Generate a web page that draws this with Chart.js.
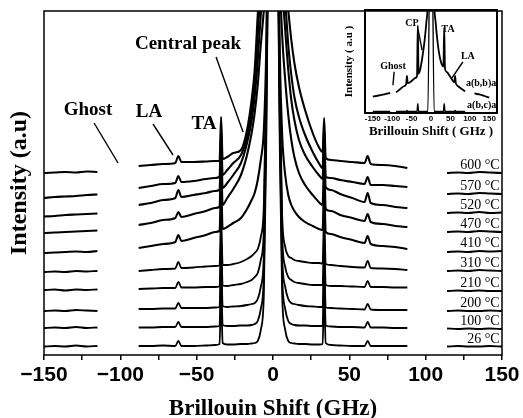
<!DOCTYPE html>
<html>
<head>
<meta charset="utf-8">
<script src="https://cdn.jsdelivr.net/npm/chart.js@4.4.1/dist/chart.umd.min.js"></script>
<style>
  body { margin: 0; background: #fff; }
  #wrap { position: relative; width: 523px; height: 418px; }
  #main { position: absolute; left: 0; top: 0; }
  #inset { position: absolute; left: 330px; top: 0; }
</style>
</head>
<body>
<div id="wrap">
  <canvas id="main" width="523" height="418"></canvas>
  <canvas id="inset" width="175" height="140"></canvas>
</div>
<script>
// Brillouin shift grid (GHz), shared by every spectrum; null rows are the gaps
const shift = [-150, -143, -136, -129, -122, -115, -100,
  -88, -80, -72, -64, -62, -60, -52, -44, -38, -35, -34, -33, -30, -26, -21, -17, -14, -12, -10, -8, -6, -4.5, -2.5,
  0,
  2.5, 4.5, 6, 8, 10, 12, 14, 17, 21, 26, 30, 32.5, 33.5, 34.5, 38, 44, 52, 60, 62, 64, 72, 80, 88,
  100, 114, 121, 128, 135, 142, 150];

const tempLabels = ['26 °C', '100 °C', '200 °C', '210 °C', '310 °C', '410 °C', '470 °C', '520 °C', '570 °C', '600 °C'];

// stacked intensities (a.u.); 1000 = off the top
const t26 = [8.5, 9, 8.5, 9.5, 8.5, 9, null,
  9, 9, 9.5, 9, 14, 9, 9, 9.5, 10, 11, 62, 12, 10.5, 10.5, 11, 11, 11.5, 12, 14, 25, 60, 200, 500,
  1000,
  500, 200, 60, 25, 14, 12, 11.5, 11, 11, 10.5, 10.5, 11, 62, 12, 10, 9.5, 9, 9, 14, 9, 9, 9, 9,
  null, 8.5, 9, 8.5, 8.5, 9, 8.5];
const t100 = [27, 27.5, 27, 28, 27, 27.5, null,
  27.5, 27.5, 28, 28, 33, 28, 28, 28, 28.5, 29, 80, 30, 29, 29, 29.5, 29.5, 30, 31, 34, 46, 80, 220, 500,
  1000,
  500, 220, 80, 46, 34, 31, 30, 29.5, 29.5, 29, 29, 29, 80, 29.5, 28.5, 28, 28, 27.5, 33, 27.5, 27.5, 27, 27,
  null, 26.5, 26, 26.5, 26, 26.5, 26];
const t200 = [44, 44.5, 44, 45, 44.5, 44, null,
  46, 46, 46.5, 46.5, 52, 47, 47, 47, 47.5, 48, 98, 49, 48, 48.5, 49, 50, 51, 52, 56, 68, 100, 240, 520,
  1000,
  520, 240, 100, 68, 56, 52, 51, 50, 49, 48.5, 48, 48, 98, 47.5, 47, 46.5, 46, 45.5, 51, 45.5, 45, 45, 45,
  null, 44, 44.5, 44, 44, 44.5, 44];
const t210 = [65, 65.5, 64.5, 65.5, 65, 65.5, null,
  66, 66.5, 67, 67, 73, 67.5, 67.5, 68, 68, 68.5, 118, 69.5, 69, 70, 71, 73, 75, 78, 82, 95, 125, 260, 520,
  1000,
  520, 250, 120, 88, 78, 75, 73, 72, 71, 70, 70, 70, 120, 70, 69, 69, 68.5, 68, 74, 68, 68, 67.5, 67.5,
  null, 64, 64.5, 64, 64.5, 64, 64];
const t310 = [83, 83.5, 83, 84, 83.5, 84, null,
  84, 85, 86, 86.5, 93, 87, 87.5, 88.5, 89, 89.5, 140, 90, 90, 91, 93, 96, 99, 102, 106, 118, 150, 270, 520,
  1000,
  520, 260, 140, 108, 99, 97, 95, 94, 93, 92, 92, 91.5, 142, 91, 90, 89, 88, 87.5, 94, 87, 86.5, 86, 85,
  null, 84, 84.5, 84, 85, 84.5, 84];
const t410 = [102, 102.5, 103, 103.5, 103, 104, null,
  107, 109, 111, 113, 120, 114, 117, 120, 123, 124, 172, 126, 128, 132, 137, 146, 155, 162, 175, 195, 225, 300, 540,
  1000,
  540, 300, 220, 180, 160, 150, 144, 138, 133, 129, 126, 125, 172, 123, 121, 118, 115, 112, 119, 111, 109, 108, 106,
  null, 103, 103.5, 103, 104, 103.5, 104];
const t470 = [122, 122.5, 123, 123.5, 124, 124.5, null,
  130, 132, 135, 137, 143, 138, 141, 144, 147, 148, 195, 150, 157, 166, 180, 200, 222, 242, 270, 310, 345, 380, 560,
  1000,
  560, 380, 320, 275, 240, 215, 198, 182, 170, 160, 153, 150, 195, 146, 144, 140, 137, 134, 141, 133, 131, 129, 128,
  null, 123, 123.5, 123, 124, 123.5, 123];
const t520 = [138.5, 139, 140, 140.5, 141, 141.5, null,
  150, 152, 155, 157, 165, 158, 160, 162, 164, 165, 212, 167, 172, 180, 192, 212, 235, 258, 295, 340, 375, 420, 580,
  1000,
  580, 420, 370, 325, 285, 255, 235, 215, 200, 188, 180, 176, 215, 168, 165, 161, 157, 153, 162, 152, 150, 148, 147,
  null, 142, 142.5, 142, 143, 142, 142.5];
const t570 = [157, 158, 158.5, 159, 160, 160.5, null,
  167, 169, 171, 172, 179, 173, 174, 176, 177, 178, 225, 180, 185, 192, 200, 218, 245, 272, 320, 370, 405, 440, 600,
  1000,
  600, 440, 400, 355, 310, 280, 258, 238, 220, 203, 192, 187, 228, 178, 177, 175, 173, 171, 178, 170, 170, 169, 168,
  null, 161, 161.5, 161, 162, 161.5, 161];
const t600 = [182, 182.5, 183, 182.5, 183.5, 183, null,
  189, 190, 191, 192, 199, 193, 193, 193.5, 194, 194, 238, 196, 198, 202, 205, 225, 255, 285, 340, 390, 425, 460, 620,
  1000,
  620, 460, 420, 380, 345, 315, 292, 268, 245, 222, 208, 203, 237, 197, 195, 194, 193, 192, 199, 191, 190, 189, 187,
  null, 182, 182.5, 182, 183, 182.5, 182];

const traces = [t26, t100, t200, t210, t310, t410, t470, t520, t570, t600];

// inset: two polarisations
const insetShift = [-150, -135, -120, -105, -97,
  -90, -80, -70, -64, -62, -60, -50, -40, -36, -34, -32, -28, -24, -20, -16, -12, -8,
  0,
  8, 12, 16, 20, 24, 28, 32, 34, 36, 40, 50, 60, 62, 64, 70, 80, 88,
  100, 112, 125, 138, 150];
const abba = [16, 17, 18, 19.5, null,
  20, 23, 26, 28, 36, 29, 31, 34, 36, 85, 38, 42, 50, 60, 72, 88, 110,
  300,
  110, 88, 72, 60, 52, 47, 45, 83, 43, 40, 35, 30, 36, 29, 26, 23, 21,
  null, 19, 18, 16.5, 15];
const abca = [1.5, 1.5, 1.5, 1.5, null,
  1.5, 1.5, 1.5, 1.5, 2.5, 1.5, 1.5, 1.5, 1.5, 9, 1.5, 1.5, 1.5, 1.5, 1.5, 1.5, 1.5,
  300,
  1.5, 1.5, 1.5, 1.5, 1.5, 1.5, 1.5, 9, 1.5, 1.5, 1.5, 1.5, 2.5, 1.5, 1.5, 1.5, 1.5,
  null, null, null, null, null];

const serif = '"Liberation Serif", "Times New Roman", serif';
const sans = '"Liberation Sans", Arial, sans-serif';
Chart.defaults.color = '#000';

function toPoints(xs, ys) {
  return xs.map((x, i) => ({ x: x, y: ys[i] }));
}

function framePlugin(width) {
  return {
    id: 'frame',
    afterDatasetsDraw(chart) {
      const a = chart.chartArea, ctx = chart.ctx;
      ctx.save();
      ctx.lineWidth = width;
      ctx.strokeStyle = '#000';
      ctx.strokeRect(a.left, a.top, a.right - a.left, a.bottom - a.top);
      ctx.restore();
    }
  };
}

function notesPlugin(notes, font) {
  return {
    id: 'notes',
    afterDraw(chart) {
      const { ctx, scales: { x, y } } = chart;
      ctx.save();
      ctx.fillStyle = '#000';
      ctx.strokeStyle = '#000';
      ctx.font = font;
      ctx.textBaseline = 'middle';
      notes.forEach(n => {
        ctx.textAlign = n.align || 'center';
        ctx.fillText(n.text, x.getPixelForValue(n.x), y.getPixelForValue(n.y));
        if (n.arrow) {
          ctx.lineWidth = 1.4;
          ctx.beginPath();
          ctx.moveTo(x.getPixelForValue(n.arrow[0]), y.getPixelForValue(n.arrow[1]));
          ctx.lineTo(x.getPixelForValue(n.arrow[2]), y.getPixelForValue(n.arrow[3]));
          ctx.stroke();
        }
      });
      ctx.restore();
    }
  };
}

// temperature tags sit just above the right end of each spectrum
const tempTags = {
  id: 'tempTags',
  afterDraw(chart) {
    const { ctx, scales: { x, y } } = chart;
    ctx.save();
    ctx.fillStyle = '#000';
    ctx.font = '14px ' + serif;
    ctx.textAlign = 'right';
    ctx.textBaseline = 'alphabetic';
    chart.data.datasets.forEach(ds => {
      const last = ds.data[ds.data.length - 1];
      ctx.fillText(ds.label, x.getPixelForValue(148.5), y.getPixelForValue(last.y) - 4);
    });
    ctx.restore();
  }
};

const mainNotes = [
  { text: 'Central peak', x: -55.7, y: 311, arrow: [-37.3, 298, -19.6, 223] },
  { text: 'Ghost', x: -121.2, y: 245, arrow: [-117.2, 232, -101.5, 192] },
  { text: 'LA', x: -81.2, y: 243, arrow: [-78.6, 231, -65.5, 200] },
  { text: 'TA', x: -45.2, y: 231 }
];

new Chart(document.getElementById('main'), {
  type: 'line',
  data: {
    datasets: traces.map((t, i) => ({
      label: tempLabels[i],
      data: toPoints(shift, t),
      borderColor: '#000',
      borderWidth: i > 4 ? 2.1 : 1.8,
      pointRadius: 0,
      cubicInterpolationMode: 'monotone',
      spanGaps: false
    }))
  },
  options: {
    responsive: false,
    animation: false,
    layout: { padding: { top: 11, right: 21, left: 0, bottom: 0 } },
    plugins: { legend: { display: false }, tooltip: { enabled: false } },
    scales: {
      x: {
        type: 'linear',
        min: -150,
        max: 150,
        afterFit: s => { s.height = 63; },
        border: { display: false },
        grid: { display: true, drawOnChartArea: false, drawTicks: true, tickLength: 5, color: '#000', lineWidth: 1.5 },
        ticks: {
          stepSize: 25,
          autoSkip: false,
          maxRotation: 0,
          padding: 3,
          font: { family: sans, size: 21, weight: 'bold' },
          callback: v => v % 50 === 0 ? (v < 0 ? '\u2212' + Math.abs(v) : String(v)) : ''
        },
        title: {
          display: true,
          text: 'Brillouin Shift (GHz)',
          font: { family: serif, size: 23, weight: 'bold', lineHeight: 0.8 },
          padding: { top: 0, bottom: 0 }
        }
      },
      y: {
        min: 0,
        max: 344,
        afterFit: s => { s.width = 44; },
        border: { display: false },
        grid: { display: false, drawTicks: false },
        ticks: { display: false },
        title: {
          display: true,
          text: 'Intensity (a.u)',
          font: { family: serif, size: 24, weight: 'bold', lineHeight: 1 },
          padding: { top: 8, bottom: 0 }
        }
      }
    }
  },
  plugins: [framePlugin(1.5), tempTags, notesPlugin(mainNotes, 'bold 19px ' + serif)]
});

const insetNotes = [
  { text: 'CP', x: -49, y: 87, arrow: [-33.5, 81.5, -23, 61] },
  { text: 'Ghost', x: -98, y: 45.6, arrow: [-95, 40, -98, 27] },
  { text: 'TA', x: 44, y: 81.5 },
  { text: 'LA', x: 95, y: 55, arrow: [82, 49.5, 54, 34] },
  { text: 'a(b,b)a', x: 168, y: 29, align: 'right' },
  { text: 'a(b,c)a', x: 168, y: 7.8, align: 'right' }
];

new Chart(document.getElementById('inset'), {
  type: 'line',
  data: {
    datasets: [
      { label: 'a(b,b)a', data: toPoints(insetShift, abba), borderWidth: 1.8 },
      { label: 'a(b,c)a', data: toPoints(insetShift, abca), borderWidth: 1.4 }
    ].map(d => Object.assign(d, {
      borderColor: '#000',
      pointRadius: 0,
      cubicInterpolationMode: 'monotone',
      spanGaps: false
    }))
  },
  options: {
    responsive: false,
    animation: false,
    layout: { padding: { top: 10, right: 8, left: 0, bottom: 0 } },
    plugins: { legend: { display: false }, tooltip: { enabled: false } },
    scales: {
      x: {
        type: 'linear',
        min: -170,
        max: 170,
        afterFit: s => { s.height = 27; },
        border: { display: false },
        grid: { display: false, drawTicks: false },
        ticks: {
          stepSize: 50,
          includeBounds: false,
          autoSkip: false,
          maxRotation: 0,
          padding: 1,
          font: { family: sans, size: 8, weight: 'bold' }
        },
        title: {
          display: true,
          text: 'Brillouin Shift ( GHz )',
          font: { family: serif, size: 13, weight: 'bold', lineHeight: 1 },
          padding: { top: 0, bottom: 2 }
        }
      },
      y: {
        min: 0,
        max: 100,
        afterFit: s => { s.width = 35; },
        border: { display: false },
        grid: { display: false, drawTicks: false },
        ticks: { display: false },
        title: {
          display: true,
          text: 'Intensity ( a.u )',
          font: { family: serif, size: 11, weight: 'bold', lineHeight: 1 },
          padding: { top: 14, bottom: 0 }
        }
      }
    }
  },
  plugins: [framePlugin(2), notesPlugin(insetNotes, 'bold 10px ' + serif)]
});
</script>
</body>
</html>
